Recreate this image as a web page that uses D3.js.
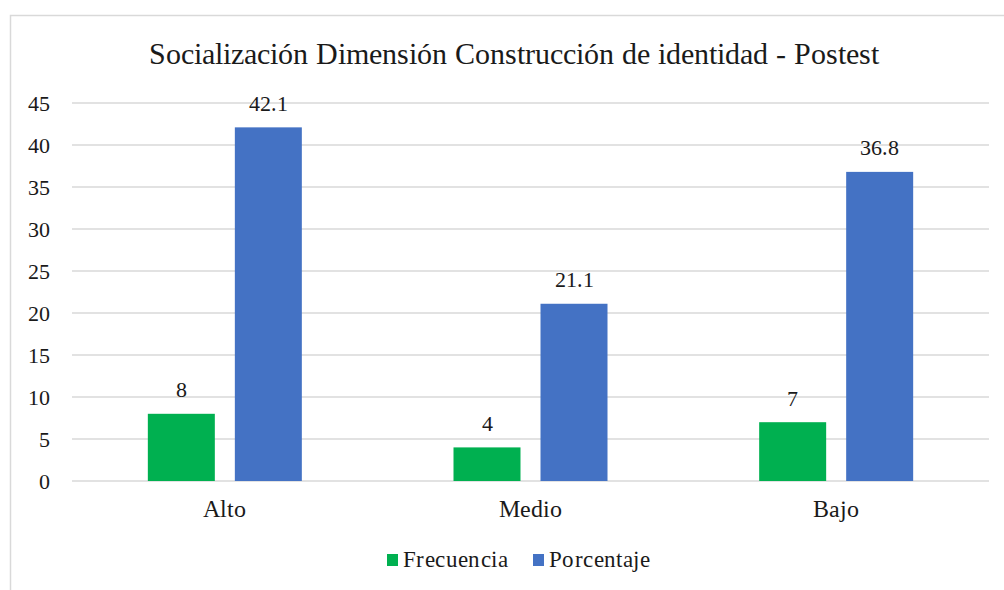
<!DOCTYPE html>
<html lang="es">
<head>
<meta charset="utf-8">
<script src="https://cdn.jsdelivr.net/npm/d3@7"></script>
<style>
  @font-face {
    font-family: "ChartSerif";
    src: local("Liberation Serif"), local("LiberationSerif"), local("LiberationSerif-Regular"), local("Times New Roman"), local("Tinos");
  }
  html, body { margin: 0; padding: 0; background: #fff; }
  svg { display: block; }
  svg text { font-family: "ChartSerif", "Liberation Serif", serif; }
</style>
</head>
<body>
<svg id="chart" width="1004" height="590"></svg>
<script>
const categories = ["Alto", "Medio", "Bajo"];
const seriesNames = ["Frecuencia", "Porcentaje"];
const frecuencia = [8, 4, 7];
const porcentaje = [42.1, 21.1, 36.8];
const yTicks = [0, 5, 10, 15, 20, 25, 30, 35, 40, 45];
const colors = ["#00b050", "#4472c4"];
const title = "Socialización Dimensión Construcción de identidad - Postest";

(function () {
const FONT = "ChartSerif, 'Liberation Serif', serif";
const svg = d3.select("#chart");
const pLeft = 72, pRight = 989, pTop = 103, pBottom = 481;

function serif(sel) { return sel.attr("font-family", FONT); }

// chart area border
svg.append("rect").attr("x", 10.5).attr("y", 15.5).attr("width", 1100).attr("height", 700)
  .attr("fill", "#fff").attr("stroke", "#d9d9d9").attr("stroke-width", 1.5);

serif(svg.append("text").attr("x", 514).attr("y", 64).attr("text-anchor", "middle")
  .attr("font-size", 29.5).attr("fill", "#1a1a1a").text(title));

const y = d3.scaleLinear().domain([0, 45]).range([pBottom, pTop]);
const x0 = d3.scaleBand().domain(categories).range([pLeft, pRight]).paddingInner(0).paddingOuter(0);
const x1 = d3.scaleBand().domain(seriesNames).range([-77, 77]).paddingInner(0.23).paddingOuter(0);

// gridlines
svg.append("g").selectAll("line").data(yTicks).join("line")
  .attr("x1", pLeft).attr("x2", pRight)
  .attr("y1", d => y(d)).attr("y2", d => y(d))
  .attr("stroke", "#d9d9d9").attr("stroke-width", 1.5);

// y axis labels
const yAxis = d3.axisLeft(y).tickValues(yTicks).tickSize(0).tickPadding(0);
const gy = svg.append("g").attr("transform", `translate(50,0)`).call(yAxis);
gy.select(".domain").remove();
serif(gy).attr("font-size", 22);
serif(gy.selectAll("text")).attr("font-size", 22).attr("fill", "#1a1a1a").attr("dy", "0.36em");

const data = categories.map((c, i) => ({ cat: c, vals: [frecuencia[i], porcentaje[i]] }));

const groups = svg.append("g").selectAll("g").data(data).join("g")
  .attr("transform", d => `translate(${x0(d.cat) + x0.bandwidth() / 2},0)`);

groups.selectAll("rect").data(d => d.vals.map((v, j) => ({ s: seriesNames[j], v, j }))).join("rect")
  .attr("x", d => x1(d.s)).attr("width", x1.bandwidth())
  .attr("y", d => y(d.v)).attr("height", d => y(0) - y(d.v))
  .attr("fill", d => colors[d.j]);

serif(groups.selectAll("text.lbl").data(d => d.vals.map((v, j) => ({ s: seriesNames[j], v, j }))).join("text")
  .attr("class", "lbl")
  .attr("x", d => x1(d.s) + x1.bandwidth() / 2).attr("y", d => y(d.v) - 16.5)
  .attr("text-anchor", "middle").attr("font-size", 22).attr("fill", "#1a1a1a")
  .text(d => d.v));

// x axis labels
const xAxis = d3.axisBottom(x0).tickSize(0).tickPadding(0);
const gx = svg.append("g").attr("transform", `translate(0,${pBottom + 35.7})`).call(xAxis);
gx.select(".domain").remove();
serif(gx).attr("font-size", 24);
serif(gx.selectAll("text")).attr("font-size", 24).attr("fill", "#1a1a1a").attr("y", 0).attr("dy", 0);

// legend
const legendItems = [
  { name: seriesNames[0], color: colors[0], x: 387 },
  { name: seriesNames[1], color: colors[1], x: 533 }
];
const lg = svg.append("g").selectAll("g").data(legendItems).join("g")
  .attr("transform", d => `translate(${d.x},0)`);
lg.append("rect").attr("x", 0).attr("y", 554).attr("width", 11).attr("height", 12).attr("fill", d => d.color);
serif(lg.append("text").attr("x", 16).attr("y", 566.7).attr("font-size", 22.5)
  .attr("letter-spacing", 0.4).attr("fill", "#1a1a1a").text(d => d.name));
})();
</script>
</body>
</html>
